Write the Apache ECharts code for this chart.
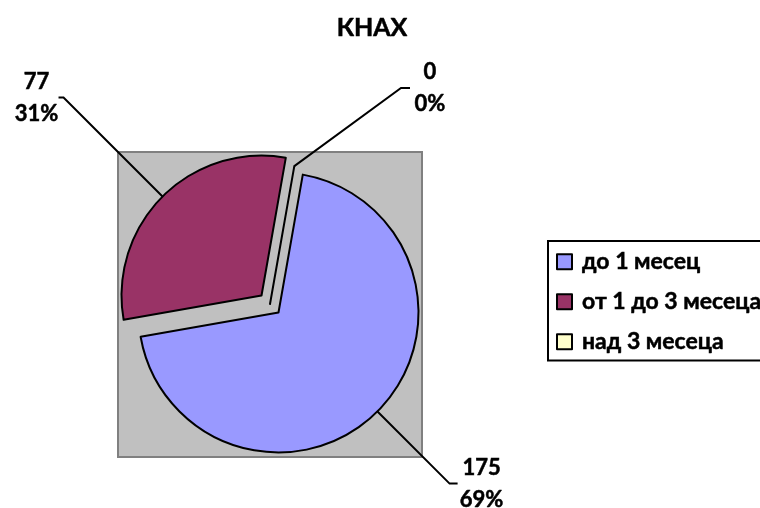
<!DOCTYPE html>
<html>
<head>
<meta charset="utf-8">
<script src="https://cdn.jsdelivr.net/npm/echarts@6/dist/echarts.min.js"></script>
<style>
html,body{margin:0;padding:0;background:#fff;}
#chart{width:760px;height:508px;}
</style>
</head>
<body>
<div id="chart"></div>
<script>
var titleText = 'КНАХ';
var categories = ['до 1 месец', 'от 1 до 3 месеца', 'над 3 месеца'];
var values = [175, 77, 0];
var colors = ['#9999FF', '#993366', '#FFFFCC'];

var FONT = 'Lato';
var lineLens = [[102, 8], [140, 5], [20, 9]];
var labelGaps = [4, 2, 4];
var exploded = [true, true, false];

var chart = echarts.init(document.getElementById('chart'), null, {renderer: 'canvas'});
var data = categories.map(function (c, i) {
  return {
    name: c,
    value: values[i],
    selected: exploded[i],
    itemStyle: {color: colors[i]},
    label: {distanceToLabelLine: labelGaps[i]},
    labelLine: {length: lineLens[i][0], length2: lineLens[i][1]}
  };
});

var boldText = {textBorderColor: '#000', textBorderWidth: 0.5};

chart.setOption({
  animation: false,
  backgroundColor: '#ffffff',
  title: {
    text: titleText,
    left: 372,
    textAlign: 'center',
    top: 15,
    padding: 0,
    textStyle: Object.assign({fontFamily: FONT, fontWeight: 'bold', fontSize: 25, color: '#000'}, boldText)
  },
  graphic: [{
    type: 'rect',
    left: 117, top: 151,
    shape: {width: 304, height: 305},
    style: {fill: '#C0C0C0', stroke: '#808080', lineWidth: 2},
    z: -10
  }],
  legend: {
    orient: 'vertical',
    left: 548,
    top: 241,
    padding: [9, 10, 7, 8],
    itemGap: 16.5,
    itemWidth: 15,
    itemHeight: 15,
    icon: 'rect',
    borderColor: '#000',
    borderWidth: 2,
    backgroundColor: '#fff',
    selectedMode: false,
    textStyle: Object.assign({fontFamily: FONT, fontWeight: 'bold', fontSize: 23, lineHeight: 23, color: '#000', padding: [0, 0, 0, 5]}, boldText),
    itemStyle: {borderColor: '#000', borderWidth: 2},
    data: categories
  },
  series: [{
    type: 'pie',
    center: [270, 304],
    radius: 140,
    startAngle: 80,
    clockwise: true,
    selectedMode: 'multiple',
    selectedOffset: 12,
    avoidLabelOverlap: false,
    percentPrecision: 0,
    minShowLabelAngle: 0,
    silent: true,
    emphasis: {disabled: true},
    itemStyle: {borderColor: '#000', borderWidth: 2},
    label: {
      show: true,
      position: 'outside',
      formatter: '{a|{c}}\n{a|{d}%}',
      color: '#000',
      rich: {
        a: Object.assign({fontFamily: FONT, fontWeight: 'bold', fontSize: 22, lineHeight: 32, width: 40, align: 'center', color: '#000'}, boldText)
      }
    },
    labelLine: {show: true, smooth: false, lineStyle: {color: '#000', width: 2}},
    labelLayout: function (p) {
      if (p.dataIndex === 2) {
        return {x: 430, y: 88, align: 'center', verticalAlign: 'middle'};
      }
    },
    data: data
  }]
});
</script>
</body>
</html>
